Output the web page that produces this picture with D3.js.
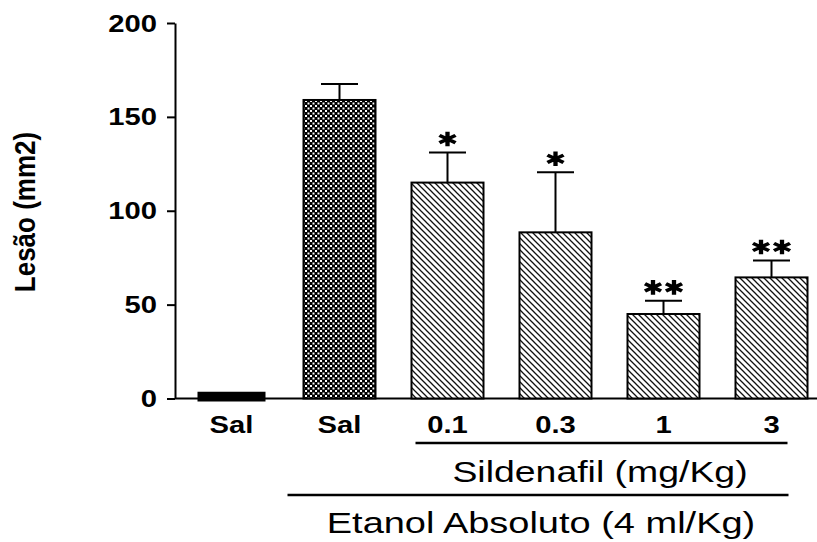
<!DOCTYPE html>
<html>
<head>
<meta charset="utf-8">
<script src="https://cdn.jsdelivr.net/npm/d3@7"></script>
<style>
  body { margin: 0; background: #fff; }
  text { font-family: "Liberation Sans", Arial, sans-serif; fill: #000; }
</style>
</head>
<body>
<div id="chart"></div>
<script>
// chart data
var groupIds = ["sal0", "sal1", "s01", "s03", "s1", "s3"];
var groupLabels = ["Sal", "Sal", "0.1", "0.3", "1", "3"];
var means = [2, 159, 115, 88.5, 45, 64.5];
var sems = [0, 8.5, 16, 32, 7, 9];
var stars = ["", "", "*", "*", "**", "**"];
var fills = ["solid", "check", "hatch", "hatch", "hatch", "hatch"];
var yTicks = [0, 50, 100, 150, 200];

var svgWidth = 817;
var svgHeight = 542;

// the original figure is stretched sideways, so text is too
var SX = 1.27;

var svg = d3.select("#chart")
  .append("svg")
  .attr("width", svgWidth)
  .attr("height", svgHeight);

var defs = svg.append("defs");

// checkerboard for the ethanol + saline bar
var check = defs.append("pattern")
  .attr("id", "check")
  .attr("patternUnits", "userSpaceOnUse")
  .attr("width", 5)
  .attr("height", 5);
check.append("rect").attr("width", 5).attr("height", 5).attr("fill", "#000");
check.append("rect").attr("x", 0).attr("y", 0).attr("width", 2).attr("height", 2).attr("fill", "#fff");
check.append("rect").attr("x", 2.5).attr("y", 2.5).attr("width", 2).attr("height", 2).attr("fill", "#fff");

// diagonal hatch for the sildenafil bars
var hatch = defs.append("pattern")
  .attr("id", "hatch")
  .attr("patternUnits", "userSpaceOnUse")
  .attr("width", 6)
  .attr("height", 6);
hatch.append("rect").attr("width", 6).attr("height", 6).attr("fill", "#fff");
hatch.append("path")
  .attr("d", "M0,0 L6,6 M-1,5 L1,7 M5,-1 L7,1")
  .attr("stroke", "#111")
  .attr("stroke-width", 1.3);

// scales
var x = d3.scaleBand()
  .domain(groupIds)
  .range([177.5, 825.5])
  .paddingInner(1 / 3)
  .paddingOuter(1 / 6);

var y = d3.scaleLinear()
  .domain([0, 200])
  .range([398.5, 23]);

var bw = x.bandwidth();

// y axis
var yAxis = svg.append("g")
  .attr("transform", "translate(175,0)")
  .call(d3.axisLeft(y).tickValues(yTicks).tickSize(8).tickSizeOuter(0).tickPadding(10));

yAxis.select(".domain").attr("stroke-width", 2);
yAxis.selectAll(".tick line").attr("stroke-width", 2);
yAxis.selectAll(".tick text")
  .attr("x", null)
  .attr("dy", null)
  .attr("transform", "translate(-18,8) scale(" + SX + ",1)")
  .style("font-size", "23px")
  .style("font-weight", "bold")
  .style("font-family", "'Liberation Sans', Arial, sans-serif");

// baseline
svg.append("line")
  .attr("x1", 175)
  .attr("x2", svgWidth)
  .attr("y1", y(0))
  .attr("y2", y(0))
  .attr("stroke", "#000")
  .attr("stroke-width", 2);

// bars
var barData = groupIds.map(function(id, i) {
  return { id: id, mean: means[i], sem: sems[i], star: stars[i], fill: fills[i] };
});

svg.selectAll(".bar")
  .data(barData)
  .enter()
  .append("rect")
  .attr("class", "bar")
  .attr("x", d => d.fill === "solid" ? x(d.id) + 5 : x(d.id))
  .attr("width", d => d.fill === "solid" ? bw - 10 : bw)
  .attr("y", d => y(d.mean))
  .attr("height", d => y(0) - y(d.mean))
  .attr("fill", d => d.fill === "solid" ? "#000" : "url(#" + d.fill + ")")
  .attr("stroke", "#000")
  .attr("stroke-width", d => d.fill === "solid" ? 6 : 2);

// error bars (upper half only)
var errData = barData.filter(d => d.sem > 0);

svg.selectAll(".err")
  .data(errData)
  .enter()
  .append("line")
  .attr("class", "err")
  .attr("x1", d => x(d.id) + bw / 2)
  .attr("x2", d => x(d.id) + bw / 2)
  .attr("y1", d => y(d.mean))
  .attr("y2", d => y(d.mean + d.sem))
  .attr("stroke", "#000")
  .attr("stroke-width", 2);

svg.selectAll(".cap")
  .data(errData)
  .enter()
  .append("line")
  .attr("class", "cap")
  .attr("x1", d => x(d.id) + bw / 2 - 18.5)
  .attr("x2", d => x(d.id) + bw / 2 + 18.5)
  .attr("y1", d => y(d.mean + d.sem))
  .attr("y2", d => y(d.mean + d.sem))
  .attr("stroke", "#000")
  .attr("stroke-width", 2);

// significance stars
var starSymbol = d3.symbol().type(d3.symbolAsterisk).size(150);
var starData = [];
barData.forEach(function(d) {
  var n = d.star.length;
  for (var k = 0; k < n; k++) {
    starData.push({ id: d.id, top: d.mean + d.sem, off: (k - (n - 1) / 2) * 21 });
  }
});

svg.selectAll(".star")
  .data(starData)
  .enter()
  .append("path")
  .attr("class", "star")
  .attr("d", starSymbol)
  .attr("transform", d => "translate(" + (x(d.id) + bw / 2 + d.off) + "," + (y(d.top) - 13.5) + ") scale(" + SX + ",1)")
  .attr("fill", "none")
  .attr("stroke", "#000")
  .attr("stroke-width", 3.4);

// group labels under the bars
svg.selectAll(".xlab")
  .data(groupIds)
  .enter()
  .append("text")
  .attr("class", "xlab")
  .attr("text-anchor", "middle")
  .attr("transform", d => "translate(" + (x(d) + bw / 2) + ",433) scale(" + SX + ",1)")
  .style("font-size", "23px")
  .style("font-weight", "bold")
  .text((d, i) => groupLabels[i]);

// Sildenafil bracket
var sx1 = x("s01") + 4;
var sx2 = x("s3") + bw / 2 + 16;
svg.append("line")
  .attr("x1", sx1).attr("x2", sx2)
  .attr("y1", 443).attr("y2", 443)
  .attr("stroke", "#000").attr("stroke-width", 2.5);

svg.append("text")
  .attr("text-anchor", "middle")
  .attr("transform", "translate(600,482) scale(1.29,1)")
  .style("font-size", "29px")
  .text("Sildenafil (mg/Kg)");

// Ethanol bracket
var ex1 = x("sal1") - 16;
svg.append("line")
  .attr("x1", ex1).attr("x2", sx2 + 1)
  .attr("y1", 495).attr("y2", 495)
  .attr("stroke", "#000").attr("stroke-width", 2.5);

svg.append("text")
  .attr("text-anchor", "middle")
  .attr("transform", "translate(541,533) scale(1.31,1)")
  .style("font-size", "29px")
  .text("Etanol Absoluto (4 ml/Kg)");

// y axis title
svg.append("text")
  .attr("text-anchor", "middle")
  .attr("transform", "translate(35,212) rotate(-90) scale(1,1.1)")
  .style("font-size", "26px")
  .style("font-weight", "bold")
  .text("Lesão (mm2)");
</script>
</body>
</html>
